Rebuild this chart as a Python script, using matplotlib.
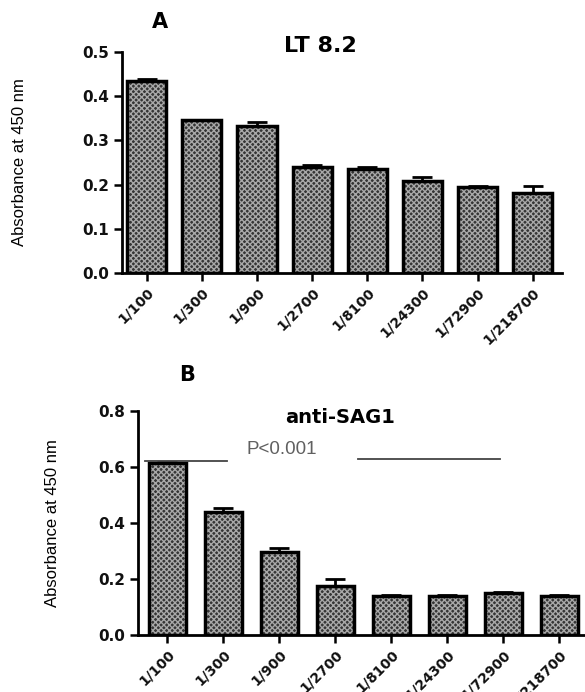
import numpy as np
import matplotlib
matplotlib.use('Agg')
import matplotlib.pyplot as plt

plt.rcParams['font.family'] = ['DejaVu Sans']

# dilutions
dilutions = ['1/100', '1/300', '1/900', '1/2700', '1/8100', '1/24300', '1/72900', '1/218700']

# panel A: LT 8.2
lt_mean = [0.435, 0.345, 0.333, 0.240, 0.235, 0.209, 0.195, 0.180]
lt_err = [0.004, 0.002, 0.008, 0.004, 0.004, 0.008, 0.002, 0.016]

# panel B: anti-SAG1
sag_mean = [0.614, 0.440, 0.297, 0.176, 0.138, 0.139, 0.151, 0.138]
sag_err = [0.005, 0.014, 0.012, 0.025, 0.003, 0.003, 0.004, 0.005]


def draw_bars(ax, means, errs, width, yticks):
    x = np.arange(len(means))
    # hatched fill first, then black outline on top
    ax.bar(x, means, width, color='#353535', edgecolor='#a8a8a8', hatch='xxxxxx',
           linewidth=0, zorder=2)
    ax.bar(x, means, width, fill=False, edgecolor='black', linewidth=2.5, zorder=3)
    ax.errorbar(x, means, yerr=[np.zeros(len(errs)), errs], fmt='none',
                ecolor='black', elinewidth=2, capsize=7, capthick=2, zorder=4)
    ax.set_xticks(x)
    ax.set_xticklabels(dilutions, rotation=45, ha='right', rotation_mode='anchor',
                       fontsize=10, fontweight='bold', color='#111111')
    ax.set_yticks(yticks)
    ax.set_yticklabels(['%.1f' % t for t in yticks], fontsize=11, fontweight='bold',
                       color='#111111')
    for s in ['top', 'right']:
        ax.spines[s].set_visible(False)
    for s in ['left', 'bottom']:
        ax.spines[s].set_linewidth(2)
    ax.tick_params(axis='both', width=1.8, length=6, pad=3)
    ax.set_ylabel('Absorbance at 450 nm', fontsize=12, family='Liberation Sans')


fig = plt.figure(figsize=(5.85, 6.92), dpi=100)

axA = fig.add_axes([0.2085, 0.6055, 0.752, 0.3194])
draw_bars(axA, lt_mean, lt_err, 0.71, [0.0, 0.1, 0.2, 0.3, 0.4, 0.5])
axA.set_ylim(0, 0.5)
axA.set_xlim(-0.45, 7.53)
axA.yaxis.set_label_coords(-0.216, 0.5)
fig.text(0.274, 0.968, 'A', fontsize=15, fontweight='bold', ha='center', va='center')
fig.text(0.547, 0.934, 'LT 8.2', fontsize=16, fontweight='bold', ha='center', va='center')

axB = fig.add_axes([0.2359, 0.0824, 0.764, 0.3237])
draw_bars(axB, sag_mean, sag_err, 0.66, [0.0, 0.2, 0.4, 0.6, 0.8])
axB.set_ylim(0, 0.8)
axB.set_xlim(-0.52, 7.46)
axB.yaxis.set_label_coords(-0.175, 0.5)
fig.text(0.32, 0.458, 'B', fontsize=15, fontweight='bold', ha='center', va='center')
fig.text(0.582, 0.397, 'anti-SAG1', fontsize=14, fontweight='bold', ha='center', va='center')
fig.text(0.482, 0.350, 'P<0.001', fontsize=13.5, color='#606060', ha='center', va='center',
         family='Liberation Sans')
# significance lines
axB.plot([-0.4, 1.07], [0.622, 0.622], color='#444444', linewidth=1.3, zorder=5)
axB.plot([3.4, 5.95], [0.627, 0.627], color='#444444', linewidth=1.3, zorder=5)

fig.savefig('out.png', dpi=100)
